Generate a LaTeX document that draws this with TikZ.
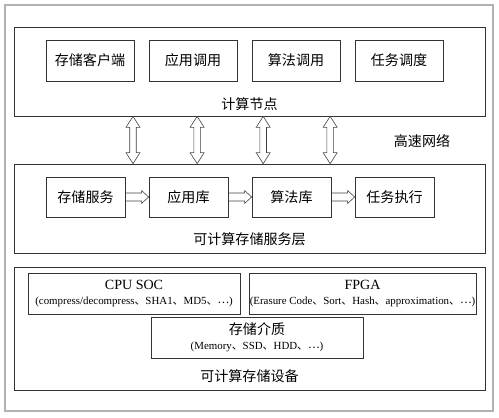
\documentclass[tikz,border=0pt]{standalone}
\usepackage{fontspec}
\setmainfont{Liberation Serif}
\newfontfamily\cjk{Noto Sans CJK SC}
\usetikzlibrary{calc}
\newcommand{\dun}{{\cjk 、}}
\newcommand{\etcdots}{\raisebox{0.3ex}{\cjk …}}
\newcommand{\smalltext}{\fontsize{9.3}{11}\selectfont}
\begin{document}
\begin{tikzpicture}[x=0.03cm, y=-0.03cm,
      panel/.style = {
        rectangle, draw=black!30, line width=1.1pt, minimum width=146.4mm,
        minimum height=121.8mm },
      frame/.style = {
        rectangle, draw=black!80, line width=0.6pt, minimum width=141.3mm,
        minimum height=26.7mm },
      block/.style = {
        rectangle, draw=black!80, line width=0.6pt, minimum width=26.4mm,
        minimum height=12.3mm, inner sep=0pt, font=\cjk\fontsize{12}{14}\selectfont },
      block-short/.style = { block, minimum width=23.7mm, minimum height=12mm },
      block-wide/.style = {
        block, minimum width=63.6mm, align=center, font=\fontsize{12}{13}\selectfont },
      caption/.style = { font=\cjk\fontsize{12}{14}\selectfont },
      vlink/.style = { draw=black!75, line width=0.5pt, to path={
        let \p1=(\tikztostart), \p2=(\tikztotarget) in
        (\x1,\y1) -- (\x1+6pt,\y1-9.4pt) -- (\x1+2.8pt,\y1-9.4pt)
        -- (\x1+2.8pt,\y2+9.4pt) -- (\x1+6pt,\y2+9.4pt) -- (\x1,\y2)
        -- (\x1-6pt,\y2+9.4pt) -- (\x1-2.8pt,\y2+9.4pt)
        -- (\x1-2.8pt,\y1-9.4pt) -- (\x1-6pt,\y1-9.4pt) -- cycle }},
      hlink/.style = { draw=black!75, line width=0.5pt, to path={
        let \p1=(\tikztostart), \p2=(\tikztotarget) in
        (\x1,\y1+3.4pt) -- (\x2-6pt,\y1+3.4pt) -- (\x2-6pt,\y1+5.5pt) -- (\x2,\y1)
        -- (\x2-6pt,\y1-5.5pt) -- (\x2-6pt,\y1-3.4pt) -- (\x1,\y1-3.4pt) }}]
    \useasboundingbox (0,0) rectangle (499,418);
    \node [panel] (panel) at (249,208) {};
    \node [frame] (compute) at (249.5,71.5) {};
    \node [frame] (service) at (249.5,208.5) {};
    \node [frame, minimum height=36.9mm] (device) at (249.5,328.5) {};
    \node [block] (client) at (90,60.5) {存储客户端};
    \node [block] (appcall) at (193,60.5) {应用调用};
    \node [block] (algcall) at (296,60.5) {算法调用};
    \node [block] (sched) at (399,60.5) {任务调度};
    \node [caption] (computelabel) at (249.5,104) {计算节点};
    \node [caption] (netlabel) at (422,141) {高速网络};
    \node [block-short] (store) at (85.5,197) {存储服务};
    \node [block-short] (applib) at (188.5,197) {应用库};
    \node [block-short] (alglib) at (291.5,197) {算法库};
    \node [block-short] (exec) at (394.5,197) {任务执行};
    \node [caption] (servicelabel) at (249.5,239) {可计算存储服务层};
    \node [block-wide] (cpu) at (134,293.5) {CPU SOC\\{\smalltext (compress/decompress\dun SHA1\dun MD5\dun\etcdots)}};
    \node [block-wide, minimum width=68.1mm] (fpga) at (362.5,293.5) {FPGA\\{\smalltext (Erasure Code\dun Sort\dun Hash\dun approximation\dun\etcdots)}};
    \node [block-wide] (medium) at (257,337.5) {{\cjk 存储介质}\\{\smalltext (Memory\dun SSD\dun HDD\dun\etcdots)}};
    \node [caption] (devicelabel) at (249.5,376) {可计算存储设备};
    % connect all nodes defined above
    \foreach \f in {0.253, 0.389, 0.529, 0.671}
      \draw[vlink] ($(compute.south west)!\f!(compute.south east)$)
        to ($(service.north west)!\f!(service.north east)$);
    \draw[hlink] (store.east) to (applib.west);
    \draw[hlink] (applib.east) to (alglib.west);
    \draw[hlink] (alglib.east) to (exec.west);
  \end{tikzpicture}
\end{document}
